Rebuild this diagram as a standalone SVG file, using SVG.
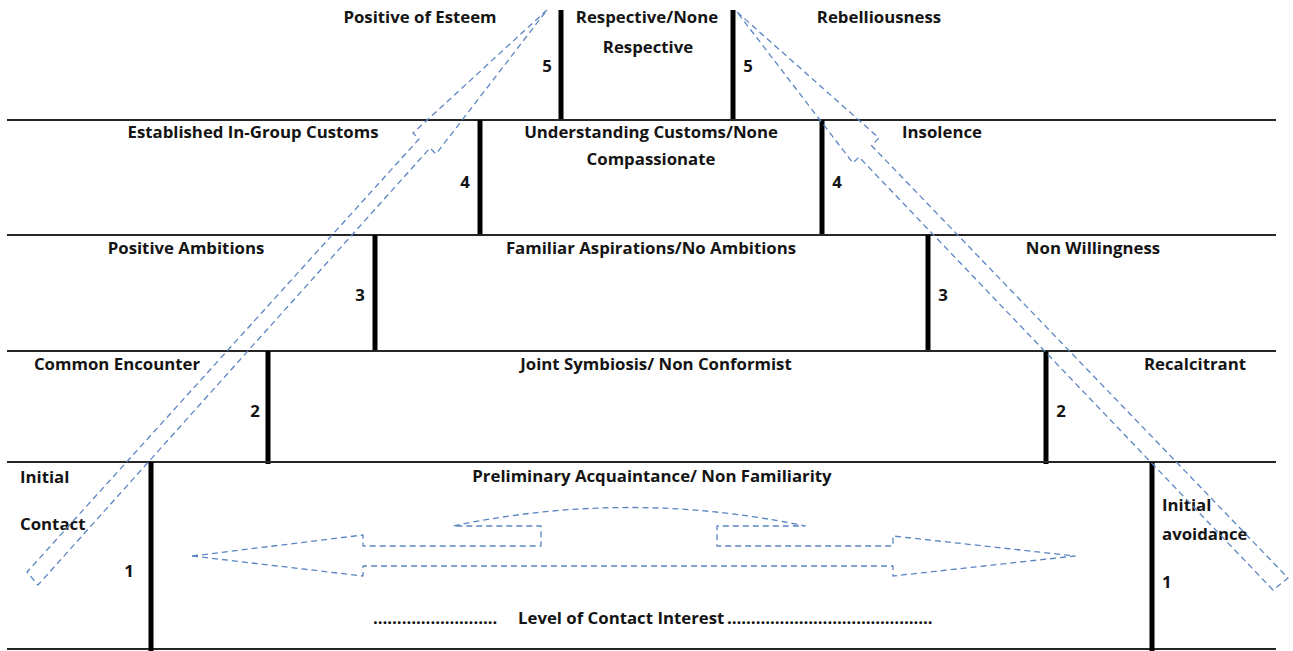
<svg xmlns="http://www.w3.org/2000/svg" width="1293" height="651" viewBox="0 0 1293 651">
  <style>
    .rule { stroke: #262626; stroke-width: 1.8; }
    .post { stroke: #000; stroke-width: 5; }
    .lbl { font-family: "Open Sans", "Liberation Sans", sans-serif; font-weight: 700; font-size: 16.8px; fill: #141414; }
    .mid { text-anchor: middle; }
    .dash { fill: none; stroke: #5b85c2; stroke-width: 1.3; stroke-dasharray: 6 4; stroke-linejoin: round; }
  </style>
  <rect width="1293" height="651" fill="#fff"/>

  <!-- Level 5 (top) -->
  <g id="level-5">
    <line class="post" x1="561" y1="10" x2="561" y2="120"/>
    <line class="post" x1="733" y1="10" x2="733" y2="120"/>
    <text class="lbl mid" x="420" y="23">Positive of Esteem</text>
    <text class="lbl mid" x="647" y="23">Respective/None</text>
    <text class="lbl mid" x="648" y="53">Respective</text>
    <text class="lbl mid" x="879" y="23">Rebelliousness</text>
    <text class="lbl mid" x="547" y="72">5</text>
    <text class="lbl mid" x="748" y="72">5</text>
  </g>

  <!-- Level 4 -->
  <g id="level-4">
    <line class="rule" x1="7" y1="120" x2="1276" y2="120"/>
    <line class="post" x1="480" y1="120" x2="480" y2="235"/>
    <line class="post" x1="822" y1="120" x2="822" y2="235"/>
    <text class="lbl mid" x="253" y="138">Established In-Group Customs</text>
    <text class="lbl mid" x="651" y="138">Understanding Customs/None</text>
    <text class="lbl mid" x="651" y="165">Compassionate</text>
    <text class="lbl mid" x="942" y="138">Insolence</text>
    <text class="lbl mid" x="465" y="188">4</text>
    <text class="lbl mid" x="837" y="188">4</text>
  </g>

  <!-- Level 3 -->
  <g id="level-3">
    <line class="rule" x1="7" y1="235" x2="1276" y2="235"/>
    <line class="post" x1="375" y1="235" x2="375" y2="351"/>
    <line class="post" x1="928" y1="235" x2="928" y2="351"/>
    <text class="lbl mid" x="186" y="254">Positive Ambitions</text>
    <text class="lbl mid" x="651" y="254">Familiar Aspirations/No Ambitions</text>
    <text class="lbl mid" x="1093" y="254">Non Willingness</text>
    <text class="lbl mid" x="360" y="301">3</text>
    <text class="lbl mid" x="943" y="301">3</text>
  </g>

  <!-- Level 2 -->
  <g id="level-2">
    <line class="rule" x1="7" y1="351" x2="1276" y2="351"/>
    <line class="post" x1="268" y1="351" x2="268" y2="464"/>
    <line class="post" x1="1046" y1="351" x2="1046" y2="464"/>
    <text class="lbl mid" x="117" y="370">Common Encounter</text>
    <text class="lbl mid" x="656" y="370">Joint Symbiosis/ Non Conformist</text>
    <text class="lbl mid" x="1195" y="370">Recalcitrant</text>
    <text class="lbl mid" x="255" y="417">2</text>
    <text class="lbl mid" x="1061" y="417">2</text>
  </g>

  <!-- Level 1 (base) -->
  <g id="level-1">
    <line class="rule" x1="7" y1="462" x2="1276" y2="462"/>
    <line class="rule" x1="7" y1="649" x2="1276" y2="649"/>
    <line class="post" x1="151" y1="462" x2="151" y2="651"/>
    <line class="post" x1="1152" y1="462" x2="1152" y2="651"/>
    <text class="lbl" x="20" y="483">Initial</text>
    <text class="lbl" x="20" y="530">Contact</text>
    <text class="lbl mid" x="129" y="577">1</text>
    <text class="lbl mid" x="652" y="482">Preliminary Acquaintance/ Non Familiarity</text>
    <text class="lbl" x="1162" y="511">Initial</text>
    <text class="lbl" x="1162" y="540">avoidance</text>
    <text class="lbl" x="1162" y="588">1</text>
    <!-- dotted leader, label, dotted leader in one line -->
    <text class="lbl" y="624"><tspan x="373">……………………..</tspan><tspan x="518">Level of Contact Interest</tspan><tspan x="727">…………………………………….</tspan></text>
  </g>

  <!-- Dashed arrows -->
  <g id="arrows">
    <path class="dash" d="M547,10 L413,133 L419,139 L27,572 L38,585 L430,148 L436,154 Z"/>
    <path class="dash" d="M737,12 L879,138 L871.5,145.5 L1288,578 L1273,590 L859,157 L853,163 Z"/>
    <path class="dash" d="M192,556 L363,535 L363,546 L541,546 L541,526 L453,526 Q629,489 805,526 L717,526 L717,546 L893,546 L893,536 L1075,556 L893,576 L893,566 L363,566 L363,576 Z"/>
  </g>
</svg>
